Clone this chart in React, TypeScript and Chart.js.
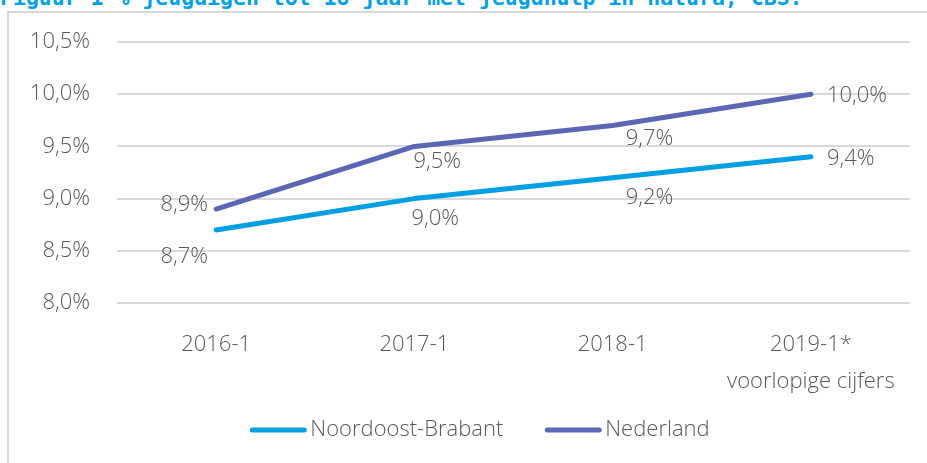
import { useEffect, useRef } from 'react';
import { Chart, registerables } from 'chart.js';

Chart.register(...registerables);

const TITLE = 'Figuur 1 % jeugdigen tot 18 jaar met jeugdhulp in natura, CBS.';
const categories = [['2016-1'], ['2017-1'], ['2018-1'], ['2019-1*', 'voorlopige cijfers']];
const seriesNames = ['Noordoost-Brabant', 'Nederland'];
const noordoostBrabant = [8.7, 9.0, 9.2, 9.4];
const nederland = [8.9, 9.5, 9.7, 10.0];
const yTicks = [8.0, 8.5, 9.0, 9.5, 10.0, 10.5];

const COLORS = ['#009FE3', '#5B67B4'];
const TEXT = '#595959';
const GRID = '#d9d9d9';
const FONT = '"Open Sans", Lato, sans-serif';
const FONT_SIZE = 22;

// label placement per series/point: [dx, dy, align]
const LABEL_PLACEMENT: [number, number, CanvasTextAlign][][] = [
  [[-8, 27, 'right'], [-3, 20, 'left'], [13, 20, 'left'], [16, 2, 'left']],
  [[-8, -4, 'right'], [-1, 15, 'left'], [13, 13, 'left'], [16, 2, 'left']],
];

const fmt = (v: number) => v.toFixed(1).replace('.', ',') + '%';

const dataLabelPlugin = {
  id: 'dataLabels',
  afterDatasetsDraw(chart: any) {
    const ctx = chart.ctx;
    ctx.save();
    ctx.font = `300 ${FONT_SIZE}px ${FONT}`;
    ctx.fillStyle = TEXT;
    ctx.textBaseline = 'middle';
    chart.data.datasets.forEach((ds: any, di: number) => {
      const meta = chart.getDatasetMeta(di);
      meta.data.forEach((pt: any, i: number) => {
        const [dx, dy, align] = LABEL_PLACEMENT[di][i];
        ctx.textAlign = align;
        ctx.fillText(fmt(ds.data[i]), pt.x + dx, pt.y + dy);
      });
    });
    ctx.restore();
  },
};

const legendPlugin = {
  id: 'customLegend',
  afterDraw(chart: any) {
    const ctx = chart.ctx;
    ctx.save();
    ctx.font = `300 ${FONT_SIZE}px ${FONT}`;
    const lineW = 56;
    const gapText = 4;
    const gapItem = 42;
    const items = chart.data.datasets.map((ds: any) => ({
      label: ds.label,
      color: ds.borderColor,
      w: lineW + gapText + ctx.measureText(ds.label).width,
    }));
    const total = items.reduce((s: number, it: any) => s + it.w, 0) + gapItem * (items.length - 1);
    let x = 480 - total / 2;
    const y = 430;
    items.forEach((it: any) => {
      ctx.strokeStyle = it.color;
      ctx.lineWidth = 5;
      ctx.lineCap = 'round';
      ctx.beginPath();
      ctx.moveTo(x + 2, y);
      ctx.lineTo(x + lineW - 2, y);
      ctx.stroke();
      ctx.fillStyle = TEXT;
      ctx.textAlign = 'left';
      ctx.textBaseline = 'middle';
      ctx.fillText(it.label, x + lineW + gapText, y);
      x += it.w + gapItem;
    });
    ctx.restore();
  },
};

export default function App() {
  const ref = useRef<HTMLCanvasElement>(null);
  useEffect(() => {
    if (!ref.current) return;
    const chart = new Chart(ref.current, {
      type: 'line',
      data: {
        labels: categories as any,
        datasets: [
          {
            label: seriesNames[0],
            data: noordoostBrabant,
            borderColor: COLORS[0],
            backgroundColor: COLORS[0],
            borderWidth: 5,
            pointRadius: 0,
            borderCapStyle: 'round',
            borderJoinStyle: 'round',
            tension: 0,
          },
          {
            label: seriesNames[1],
            data: nederland,
            borderColor: COLORS[1],
            backgroundColor: COLORS[1],
            borderWidth: 5,
            pointRadius: 0,
            borderCapStyle: 'round',
            borderJoinStyle: 'round',
            tension: 0,
          },
        ],
      },
      options: {
        responsive: false,
        animation: false,
        layout: { padding: { top: 42, right: 17, bottom: 60, left: 0 } },
        plugins: {
          legend: { display: false },
          tooltip: { enabled: false },
        },
        scales: {
          x: {
            offset: true,
            grid: { display: false },
            border: { display: false },
            ticks: {
              color: TEXT,
              font: { family: FONT, size: FONT_SIZE, weight: '300' as any, lineHeight: 37 / FONT_SIZE },
              padding: 15.5,
              maxRotation: 0,
              autoSkip: false,
            },
            afterFit: (s: any) => {
              s.height = 100;
            },
          },
          y: {
            min: yTicks[0],
            max: yTicks[yTicks.length - 1],
            afterBuildTicks: (s: any) => {
              s.ticks = yTicks.map((v) => ({ value: v }));
            },
            grid: { color: GRID, lineWidth: 2, drawTicks: false },
            border: { display: false },
            ticks: {
              color: TEXT,
              font: { family: FONT, size: FONT_SIZE, weight: '300' as any },
              padding: 27,
              callback: (v: any) => fmt(Number(v)),
            },
            afterFit: (s: any) => {
              s.width = 117;
            },
          },
        },
      },
      plugins: [dataLabelPlugin, legendPlugin],
    });
    return () => chart.destroy();
  }, []);

  return (
    <div style={{ position: 'fixed', left: 0, top: 0, width: 927, height: 463, overflow: 'hidden', background: '#fff' }}>
      <div
        style={{
          position: 'absolute',
          left: 0,
          top: -15,
          whiteSpace: 'nowrap',
          fontFamily: '"DejaVu Sans Mono", monospace',
          fontWeight: 'bold',
          fontSize: 21.5,
          lineHeight: '25px',
          color: '#00A0E9',
        }}
      >
        {TITLE}
      </div>
      <div
        style={{
          position: 'absolute',
          left: 7,
          top: 11,
          right: 0,
          bottom: 0,
          borderTop: `2px solid ${GRID}`,
          borderLeft: `2px solid ${GRID}`,
        }}
      />
      <canvas ref={ref} width={927} height={463} style={{ position: 'absolute', left: 0, top: 0, width: 927, height: 463 }} />
    </div>
  );
}
